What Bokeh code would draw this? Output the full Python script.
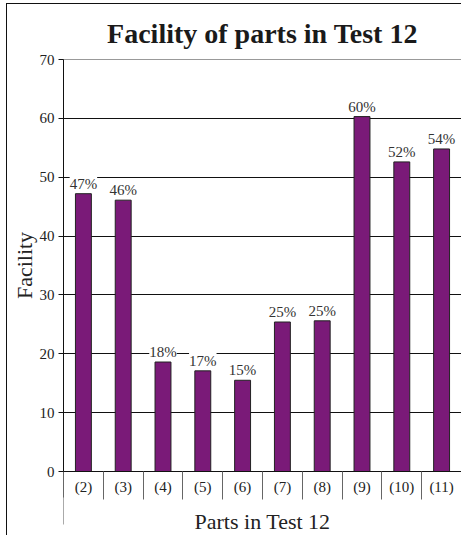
from bokeh.plotting import figure
from bokeh.models import ColumnDataSource, LabelSet, LinearAxis, FixedTicker, Range1d
from bokeh.embed import file_html
from bokeh.resources import INLINE

parts = ["(2)", "(3)", "(4)", "(5)", "(6)", "(7)", "(8)", "(9)", "(10)", "(11)"]
facility = [47.2, 46.1, 18.6, 17.1, 15.5, 25.4, 25.6, 60.3, 52.6, 54.8]
labels = ["47%", "46%", "18%", "17%", "15%", "25%", "25%", "60%", "52%", "54%"]
y_ticks = [0, 10, 20, 30, 40, 50, 60, 70]

SERIF = "Liberation Serif"
n = len(parts)
centers = [i + 0.5 for i in range(n)]
bounds = list(range(n + 1))

src = ColumnDataSource(dict(x=centers, top=facility, lab=labels))

p = figure(width=455, height=532, x_range=Range1d(0, n), y_range=Range1d(0, 70),
           output_backend="svg", toolbar_location=None, x_axis_type=None,
           min_border_left=56, min_border_right=1, min_border_top=55, min_border_bottom=64)
p.styles = {"border-left": "1px solid #111", "border-top": "1px solid #111",
            "margin-left": "6px", "margin-top": "3px"}

p.title.text = "Facility of parts in Test 12"
p.title.text_font = SERIF
p.title.text_font_size = "28px"
p.title.text_font_style = "bold"
p.title.text_color = "#1a1a1a"
p.title.align = "center"
p.title.standoff = 22

p.outline_line_color = "#999999"
p.xgrid.visible = False
p.ygrid.ticker = FixedTicker(ticks=y_ticks[1:-1])
p.ygrid.grid_line_color = "#111111"
p.ygrid.grid_line_width = 1

yax = p.yaxis[0]
yax.ticker = FixedTicker(ticks=y_ticks)
yax.minor_tick_line_color = None
yax.major_tick_out = 5
yax.major_tick_in = 0
yax.axis_line_color = "#111111"
yax.major_tick_line_color = "#111111"
yax.major_label_text_font = SERIF
yax.major_label_text_font_size = "15px"
yax.major_label_text_color = "#222222"
yax.major_label_standoff = 4
yax.axis_label = "Facility"
yax.axis_label_text_font = SERIF
yax.axis_label_text_font_size = "22px"
yax.axis_label_text_font_style = "normal"
yax.axis_label_text_color = "#222222"
yax.axis_label_standoff = 0

xax = LinearAxis(ticker=FixedTicker(ticks=centers, minor_ticks=bounds))
xax.major_label_overrides = {c: s for c, s in zip(centers, parts)}
xax.major_tick_out = 0
xax.major_tick_in = 0
xax.minor_tick_out = 28
xax.minor_tick_in = 0
xax.minor_tick_line_color = "#666666"
xax.axis_line_color = "#111111"
xax.major_label_text_font = SERIF
xax.major_label_text_font_size = "15px"
xax.major_label_text_color = "#222222"
xax.major_label_standoff = -21
p.add_layout(xax, "below")

xax2 = LinearAxis(ticker=FixedTicker(ticks=[bounds[0], bounds[-1]]))
xax2.major_label_overrides = {bounds[0]: "", bounds[-1]: ""}
xax2.major_label_text_font_size = "1px"
xax2.major_label_standoff = 0
xax2.axis_line_color = None
xax2.major_tick_out = 27
xax2.major_tick_in = 0
xax2.major_tick_line_color = "#aaaaaa"
xax2.minor_tick_line_color = None
xax2.axis_label = "Parts in Test 12"
xax2.axis_label_text_font = SERIF
xax2.axis_label_text_font_size = "22px"
xax2.axis_label_text_font_style = "normal"
xax2.axis_label_text_color = "#222222"
xax2.axis_label_standoff = -16
p.add_layout(xax2, "below")

p.vbar(x="x", top="top", width=0.4, bottom=0, source=src,
       fill_color="#7a1a78", line_color="#222222", line_width=1)

p.add_layout(LabelSet(x="x", y="top", text="lab", source=src, text_align="center",
                      text_baseline="bottom", y_offset=2, text_font=SERIF,
                      text_font_size="15px", text_color="#333333",
                      background_fill_color="white"))

open("out.html", "w").write(file_html(p, INLINE))
